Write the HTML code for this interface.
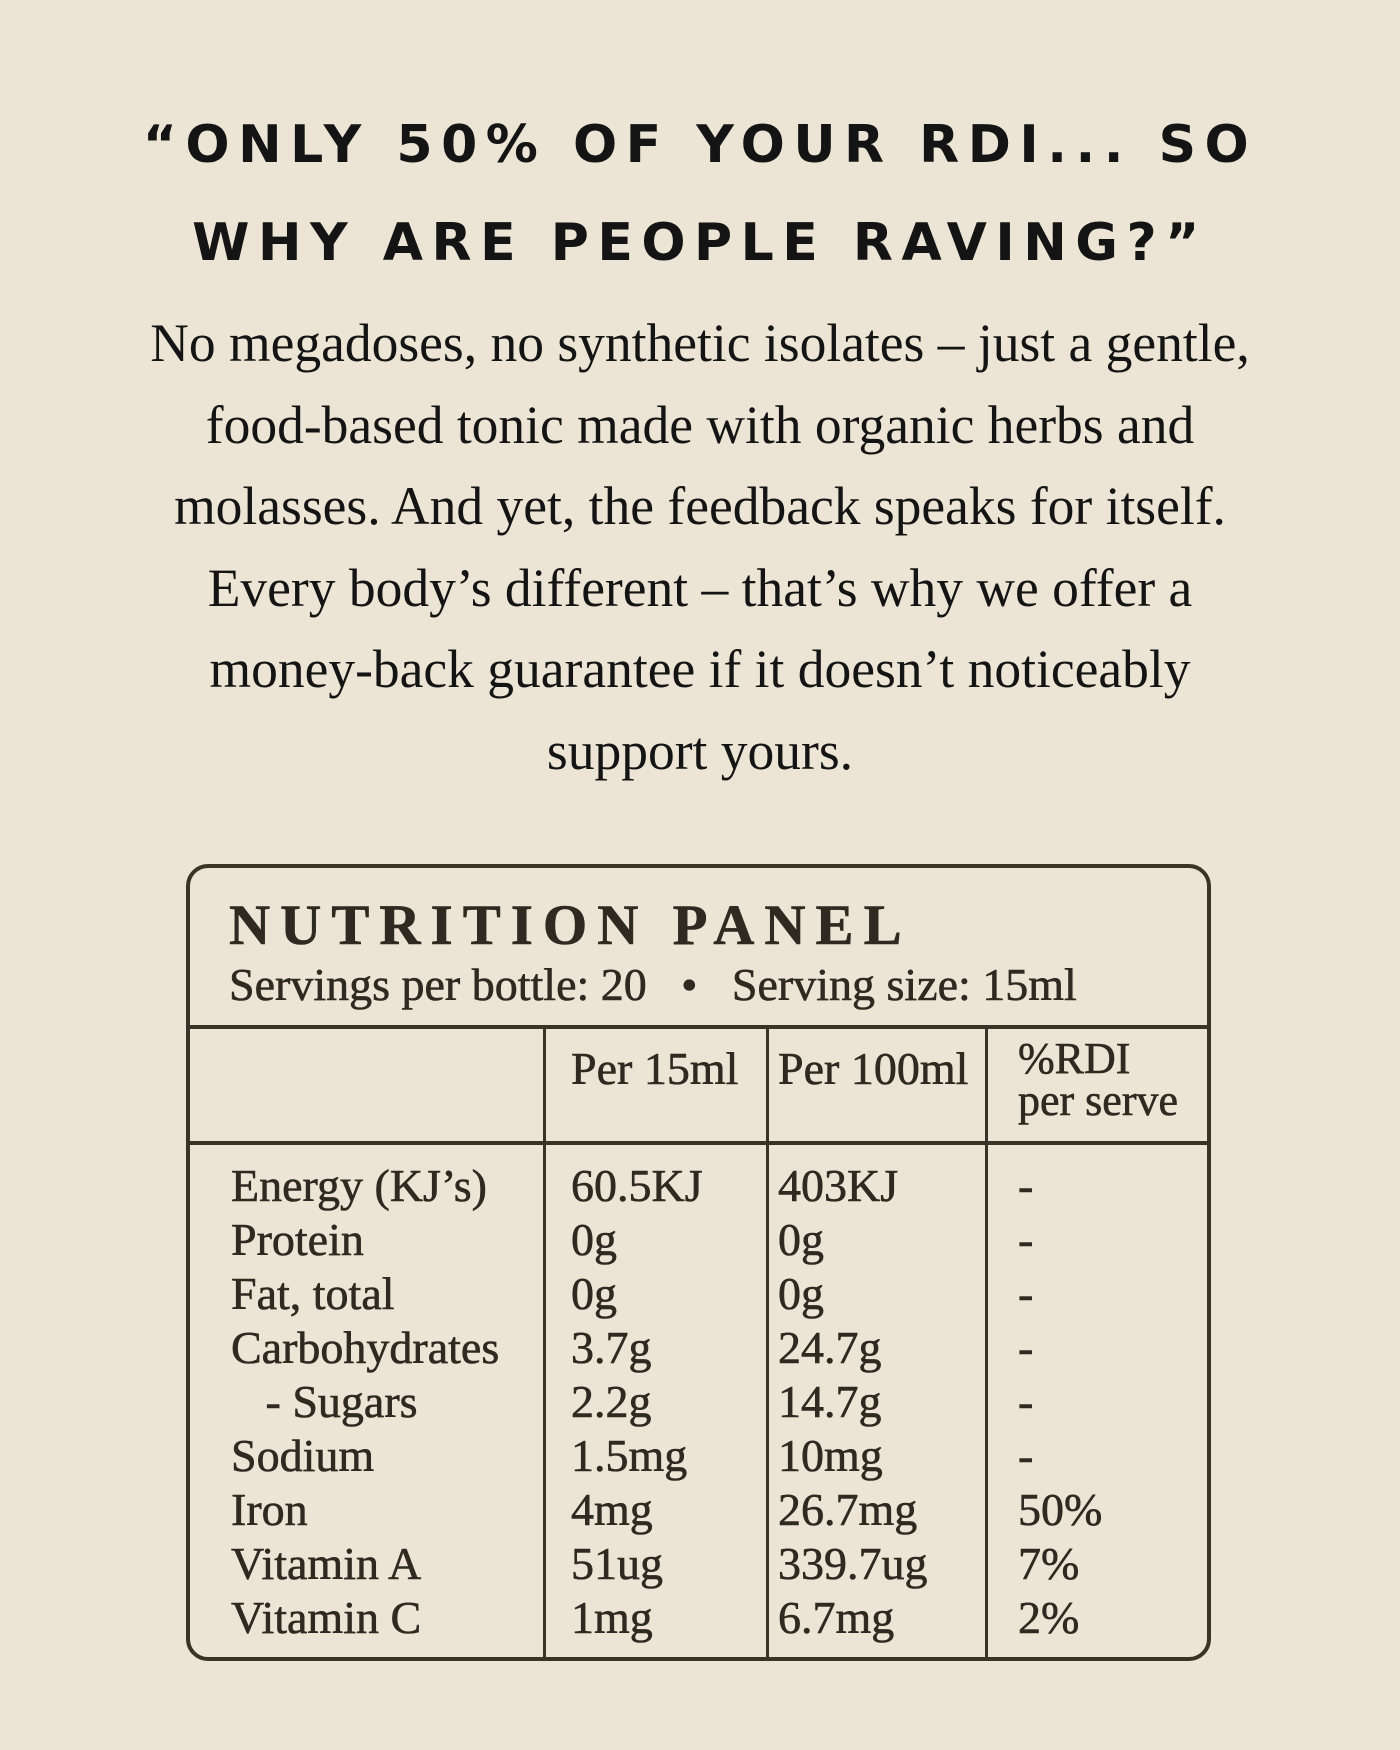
<!DOCTYPE html>
<html><head><meta charset="utf-8"><style>
html,body{margin:0;padding:0}
body{width:1400px;height:1750px;background:#ece4d5;position:relative;overflow:hidden;color:#141414}
.h{position:absolute;left:0;width:1400px;text-align:center;font-family:"DejaVu Sans","Liberation Sans",sans-serif;font-weight:bold;font-size:52px;letter-spacing:8.5px;line-height:60px}
.p{position:absolute;left:0;width:1400px;text-align:center;font-family:"Liberation Serif",serif;font-size:53.5px;line-height:81.5px;top:303px}
.box{position:absolute;left:186px;top:864px;width:1017px;height:789px;border:4.5px solid #3a3428;border-radius:22px}
.t{position:absolute;font-family:"Liberation Serif",serif;color:#2e2a22;white-space:nowrap;-webkit-text-stroke:0.6px #2e2a22}
.hl{position:absolute;height:4px;background:#3a3428}
.vl{position:absolute;width:3px;background:#3a3428;top:1027px;height:632px}
.r{font-size:46px;line-height:54px}
</style></head><body>
<div class="h" style="top:115px">“ONLY 50% OF YOUR RDI... SO</div>
<div class="h" style="top:213px">WHY ARE PEOPLE RAVING?”</div>
<div class="p">No megadoses, no synthetic isolates – just a gentle,<br>food-based tonic made with organic herbs and<br>molasses. And yet, the feedback speaks for itself.<br>Every body’s different – that’s why we offer a<br>money-back guarantee if it doesn’t noticeably<br>support yours.</div>
<div class="box"></div>
<div class="t" style="left:229px;top:893px;font-size:57px;font-weight:bold;letter-spacing:10px">NUTRITION PANEL</div>
<div class="t" style="left:229px;top:958px;font-size:46px">Servings per bottle: 20 &nbsp;&nbsp;•&nbsp;&nbsp; Serving size: 15ml</div>
<div class="hl" style="left:188px;width:1020px;top:1025px"></div>
<div class="hl" style="left:188px;width:1020px;top:1141px"></div>
<div class="vl" style="left:543px"></div>
<div class="vl" style="left:766px"></div>
<div class="vl" style="left:985px"></div>
<div class="t" style="left:571px;top:1042px;font-size:46px">Per 15ml</div>
<div class="t" style="left:778px;top:1042px;font-size:46px">Per 100ml</div>
<div class="t" style="left:1018px;top:1038px;font-size:44px;line-height:42px">%RDI<br>per serve</div>
<div class="t r" style="left:231px;top:1159px">Energy (KJ’s)<br>Protein<br>Fat, total<br>Carbohydrates<br>&nbsp;&nbsp;&nbsp;- Sugars<br>Sodium<br>Iron<br>Vitamin A<br>Vitamin C</div>
<div class="t r" style="left:571px;top:1159px">60.5KJ<br>0g<br>0g<br>3.7g<br>2.2g<br>1.5mg<br>4mg<br>51ug<br>1mg</div>
<div class="t r" style="left:778px;top:1159px">403KJ<br>0g<br>0g<br>24.7g<br>14.7g<br>10mg<br>26.7mg<br>339.7ug<br>6.7mg</div>
<div class="t r" style="left:1018px;top:1159px">-<br>-<br>-<br>-<br>-<br>-<br>50%<br>7%<br>2%</div>
</body></html>
